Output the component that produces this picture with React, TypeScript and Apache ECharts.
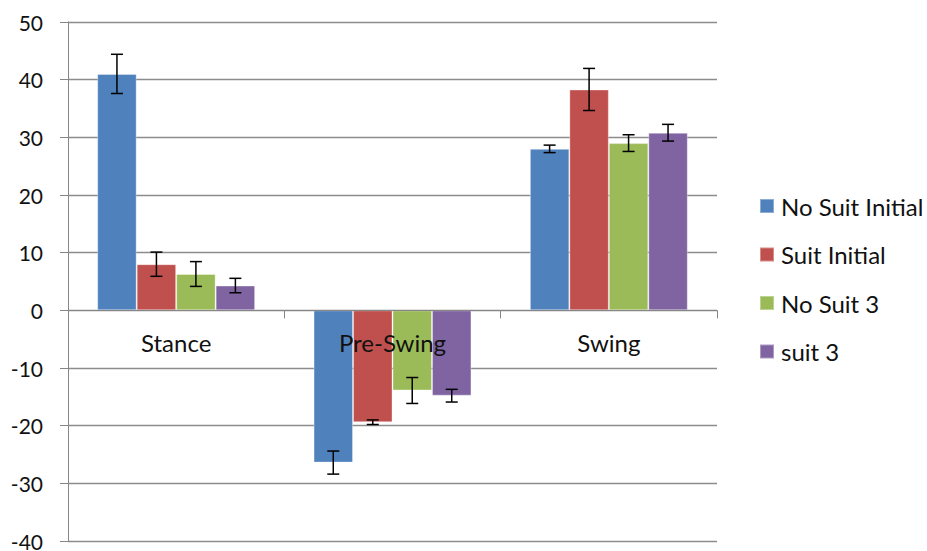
import React, { useEffect, useRef } from "react";
import * as echarts from "echarts";

const categories = ["Stance", "Pre-Swing", "Swing"];
const seriesNames = ["No Suit Initial", "Suit Initial", "No Suit 3", "suit 3"];
const noSuitInitial = [41.0, -26.4, 28.0];
const suitInitial = [8.0, -19.4, 38.3];
const noSuit3 = [6.3, -13.9, 29.0];
const suit3 = [4.3, -14.8, 30.8];
const noSuitInitialErr = [3.4, 2.0, 0.65];
const suitInitialErr = [2.1, 0.4, 3.65];
const noSuit3Err = [2.15, 2.25, 1.45];
const suit3Err = [1.25, 1.1, 1.45];
const colors = ["#4F81BD", "#C0504D", "#9BBB59", "#8064A2"];

const values = [noSuitInitial, suitInitial, noSuit3, suit3];
const errors = [noSuitInitialErr, suitInitialErr, noSuit3Err, suit3Err];

const GAP = 0.27;
const FONT = "Lato";
const Y_MIN = -40;
const Y_MAX = 50;
const GRID_TOP = 22;
const GRID_BOTTOM_PX = 541;

export default function App() {
  const ref = useRef<HTMLDivElement>(null);
  useEffect(() => {
    document.body.style.margin = "0";
    const chart = echarts.init(ref.current!, undefined, { renderer: "svg" });
    const plotH = GRID_BOTTOM_PX - GRID_TOP;
    const zeroOffset = -((0 - Y_MIN) / (Y_MAX - Y_MIN)) * plotH;
    const barSeries = values.map((vals, i) => ({
      name: seriesNames[i],
      type: "bar",
      data: vals,
      barGap: "0%",
      barCategoryGap: "27%",
      itemStyle: { color: colors[i], borderColor: "rgba(255,255,255,0.35)", borderWidth: 1 },
      z: 2,
    }));
    const errSeries = values.map((vals, i) => ({
      name: seriesNames[i] + " err",
      type: "custom",
      z: 4,
      silent: true,
      data: vals.map((v, k) => [k, v, errors[i][k]]),
      renderItem: (params: any, api: any) => {
        const x = api.value(0);
        const v = api.value(1);
        const e = api.value(2);
        const band = api.size([1, 0])[0];
        const bw = (band * (1 - GAP)) / 4;
        const cx = api.coord([x, v])[0] + (i - 1.5) * bw;
        const top = api.coord([x, v + e])[1];
        const bottom = api.coord([x, v - e])[1];
        const half = 6;
        const style = { stroke: "#000", lineWidth: 1.5 };
        return {
          type: "group",
          children: [
            { type: "line", shape: { x1: cx, y1: top, x2: cx, y2: bottom }, style },
            { type: "line", shape: { x1: cx - half, y1: top, x2: cx + half, y2: top }, style },
            { type: "line", shape: { x1: cx - half, y1: bottom, x2: cx + half, y2: bottom }, style },
          ],
        };
      },
    }));
    chart.setOption({
      animation: false,
      backgroundColor: "#fff",
      textStyle: { fontFamily: FONT },
      grid: { left: 68, right: 210, top: GRID_TOP, bottom: 551 - GRID_BOTTOM_PX, containLabel: false, outerBoundsMode: "none" },
      legend: {
        orient: "vertical",
        left: 754,
        top: 189,
        itemWidth: 14,
        itemHeight: 14,
        itemGap: 24.5,
        icon: "rect",
        data: seriesNames,
        textStyle: { fontFamily: FONT, fontSize: 24, color: "#111", padding: [0, 0, 0, 2] },
      },
      xAxis: {
        type: "category",
        data: categories,
        z: 6,
        position: "bottom",
        offset: zeroOffset,
        axisLine: { onZero: false, lineStyle: { color: "#868686", width: 1 } },
        axisTick: { show: true, interval: 0, length: 8, lineStyle: { color: "#868686" } },
        axisLabel: { margin: 20, fontFamily: FONT, fontSize: 24, color: "#111" },
        splitLine: { show: false },
      },
      yAxis: {
        type: "value",
        min: Y_MIN,
        max: Y_MAX,
        interval: 10,
        axisLine: { show: true, lineStyle: { color: "#868686", width: 1 } },
        axisTick: { show: true, length: 8, lineStyle: { color: "#868686" } },
        axisLabel: { margin: 25, fontFamily: FONT, fontSize: 21, lineHeight: 16, color: "#111" },
        splitLine: { show: true, lineStyle: { color: "#8c8c8c", width: 1.3 } },
      },
      series: [...barSeries, ...errSeries],
    });
    return () => chart.dispose();
  }, []);
  return <div ref={ref} style={{ width: 927, height: 551 }} />;
}
